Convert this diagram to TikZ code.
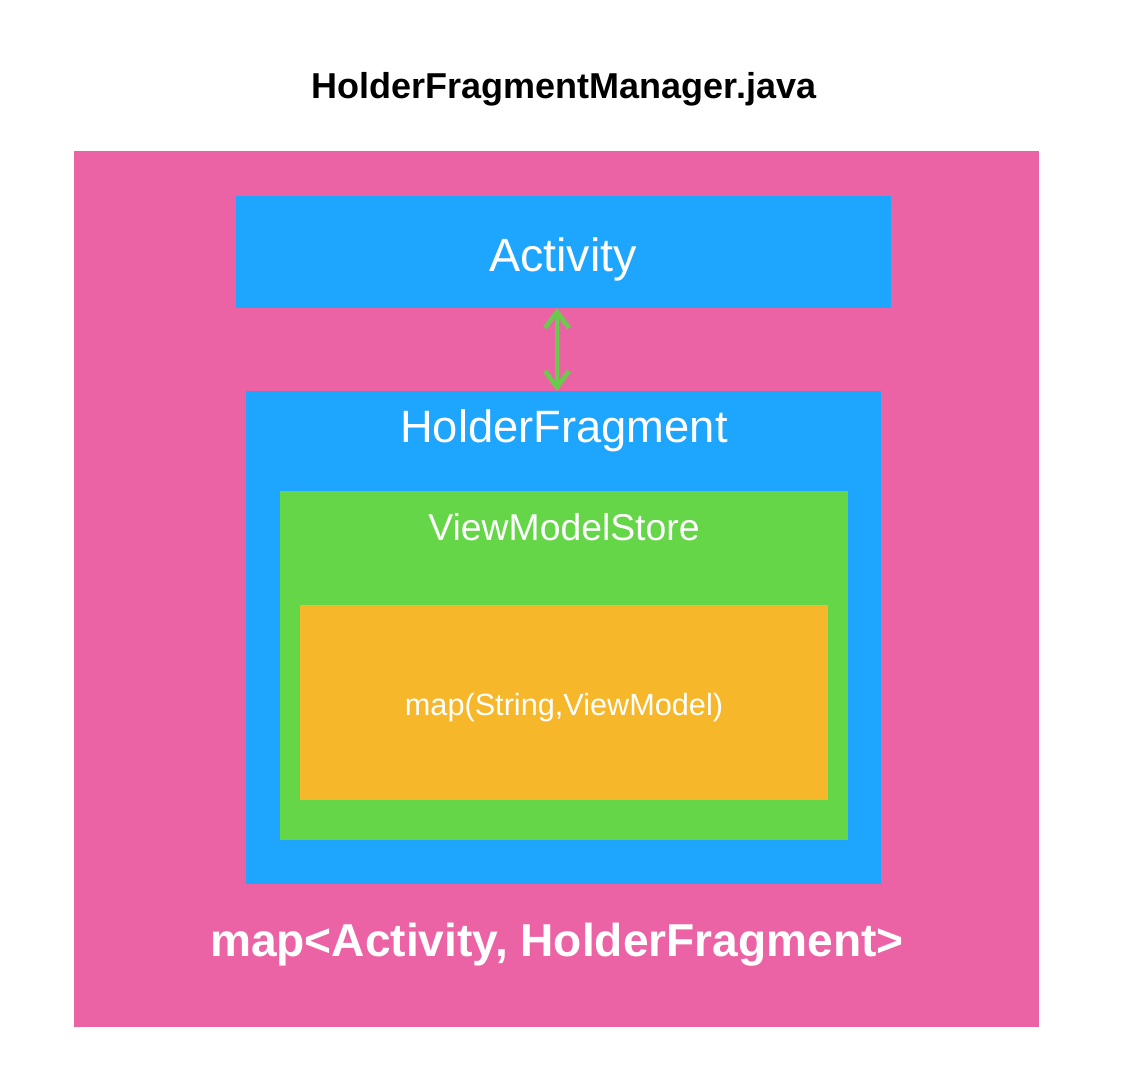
\documentclass[tikz,border=0pt]{standalone}
\usepackage{fontspec}
\setmainfont{Liberation Sans}
\usetikzlibrary{arrows.meta}
\definecolor{pinkbg}{HTML}{EC63A5}
\definecolor{bluebox}{HTML}{1EA5FD}
\definecolor{greenbox}{HTML}{64D647}
\definecolor{yellowbox}{HTML}{F6B72B}
\definecolor{arrowgreen}{HTML}{6BC94E}
\begin{document}
\begin{tikzpicture}[x=0.75pt,y=-0.75pt,
  label/.style={text=white,inner sep=0pt,anchor=center},
  barb/.tip={Straight Barb[length=12pt,width=18pt,line width=3.5pt]},
  link/.style={draw=arrowgreen,line width=3.5pt,barb-barb}]
  % page frame
  \useasboundingbox (0,0) rectangle (1122,1078);
  \fill[white] (0,0) rectangle (1122,1078);

  % title
  \node[inner sep=0pt] (title) at (564,89) {\fontsize{27}{32}\selectfont\bfseries HolderFragmentManager.java};

  % manager area
  \fill[pinkbg] (74,151) rectangle (1039,1027);
  \node[label] (mgrmap) at (557,945) {\fontsize{34.6}{40}\selectfont\bfseries map<Activity, HolderFragment>};

  % activity
  \fill[bluebox] (236,196) rectangle (891,308);
  \coordinate (actbot) at (557,308);
  \node[label] (act) at (563,259) {\fontsize{35}{42}\selectfont Activity};

  % holder fragment
  \fill[bluebox] (246,391) rectangle (881,884);
  \coordinate (hftop) at (557,391);
  \node[label] (hf) at (564,431) {\fontsize{34}{40}\selectfont HolderFragment};

  % view model store
  \fill[greenbox] (280,491) rectangle (848,840);
  \node[label] (vms) at (564,527) {\fontsize{28}{34}\selectfont ViewModelStore};

  % inner map
  \fill[yellowbox] (300,605) rectangle (828,800);
  \node[label] (vmmap) at (564,708) {\fontsize{23}{28}\selectfont map(String,ViewModel)};

  % link between activity and holder fragment
  \draw[link] (actbot) -- (hftop);
\end{tikzpicture}
\end{document}
